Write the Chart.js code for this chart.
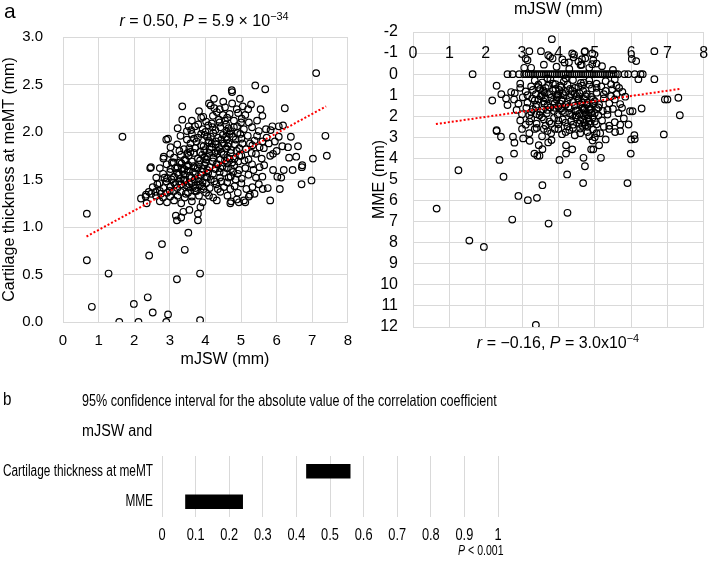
<!DOCTYPE html>
<html><head><meta charset="utf-8">
<script src="https://cdn.jsdelivr.net/npm/chart.js@4/dist/chart.umd.min.js"></script>
<style>
html,body{margin:0;padding:0;background:#fff;}
body{width:709px;height:563px;position:relative;overflow:hidden;font-family:Arial,"Liberation Sans",sans-serif;color:#000;}
canvas{position:absolute;}
.t{position:absolute;white-space:nowrap;line-height:1;}
.nl{transform:scaleX(0.8);transform-origin:0 50%;}
.nr{transform:scaleX(0.8);transform-origin:100% 50%;}
sup{font-size:0.68em;line-height:0;vertical-align:0.55em;}
</style></head><body>
<canvas id="cA" width="362" height="380" style="left:0;top:0"></canvas>
<canvas id="cB" width="349" height="380" style="left:360px;top:0"></canvas>
<canvas id="cC" width="709" height="183" style="left:0;top:380px"></canvas>

<div class="t" style="left:4px;top:0px;font-size:21px">a</div>
<div class="t" style="left:204px;top:13px;font-size:16px;transform:translateX(-50%)"><i>r</i> = 0.50, <i>P</i> = 5.9 × 10<sup>−34</sup></div>
<div class="t" style="left:225px;top:351px;font-size:16px;transform:translateX(-50%)">mJSW (mm)</div>
<div class="t" style="left:558px;top:335px;font-size:16px;transform:translateX(-50%)"><i>r</i> = −0.16, <i>P</i> = 3.0x10<sup>−4</sup></div>

<div class="t nl" style="left:3px;top:389px;font-size:19px">b</div>
<div class="t nl" data-w="415" style="left:82px;top:392px;font-size:16.5px">95% confidence interval for the absolute value of the correlation coefficient</div>
<div class="t nr" data-w="70" style="right:557px;top:423px;font-size:16px">mJSW and</div>
<div class="t nr" data-w="45" style="right:206px;top:543px;font-size:14.5px"><i>P</i> &lt; 0.001</div>

<script>
// ---------- Panel a (left): mJSW vs cartilage thickness at meMT ----------
const thicknessPoints = [
 [0.67,1.14],[0.67,0.65],[1.28,0.51],[0.81,0.16],[1.58,0.0],[2.12,0.0],[1.99,0.19],[2.38,0.26],[2.52,0.10],[2.90,0.0],
 [2.95,0.08],[3.20,0.45],[3.85,0.51],[3.85,0.02],[2.42,0.70],[2.78,0.82],[3.42,0.76],[3.52,0.94],[1.67,1.95],[2.45,1.62],
 [3.20,1.07],[3.17,1.12],[3.38,1.16],[3.32,1.10],[3.79,1.07],[3.79,1.14],[3.86,1.21],[3.55,1.18],
 [2.19,1.30],[2.33,1.34],[2.48,1.35],[2.35,1.25],[2.60,1.37],
 [4.70,1.25],[4.94,1.26],[5.08,1.28],[5.25,1.34],[5.38,1.35],[5.61,1.40],[5.75,1.41],[6.09,1.40],[6.70,1.45],[6.98,1.49],
 [6.02,1.53],[6.13,1.52],[6.71,1.63],[6.20,1.60],[5.60,1.53],
 [7.11,2.62],[5.40,2.49],[5.68,2.45],[4.74,2.44],[4.75,2.42],[6.23,2.25],[7.37,1.96],[7.41,1.75],[7.02,1.72],[6.72,1.65],
 [6.55,1.74],[6.35,1.73],[6.32,1.84],[6.16,1.85],[6.18,2.07],[6.06,2.06],[5.88,2.06],[5.83,2.02],[5.70,2.03],[6.06,1.95],
 [6.00,1.80],[5.90,1.77],[5.82,1.75],[5.64,1.83],
 [3.35,2.27],[3.35,2.13],[4.24,2.35],[4.50,2.32],[4.10,2.30],[4.97,2.35],[5.28,2.29],[5.55,2.24],[5.60,2.17],[5.20,2.24],
 [5.05,2.27],[4.88,2.24],[3.53,2.06],[3.94,2.16],[2.90,1.92],[3.27,1.80],[3.50,1.78],[2.83,1.74],[2.47,1.63],[3.06,1.68],[3.28,1.68],
 [3.82,2.22],[4.15,2.28],[4.32,2.21],[4.55,2.26],[4.68,2.19],[4.92,2.20],[5.12,2.18],[4.40,2.24],
 [3.62,2.12],[3.88,2.15],[4.02,2.11],[4.21,2.17],[4.38,2.13],[4.61,2.15],[4.80,2.12],[5.02,2.14],[5.22,2.10],[5.45,2.12],[4.49,2.18],
 [3.22,2.04],[3.48,2.01],[3.71,2.06],[3.92,2.03],[4.08,2.07],[4.28,2.02],[4.42,2.05],[4.58,2.08],[4.71,2.01],[4.89,2.06],
 [5.08,2.03],[5.31,2.05],[5.50,2.01],[4.18,2.09],[4.65,2.04],
 [2.95,1.93],[3.30,1.96],[3.48,1.92],[3.62,1.98],[3.79,1.94],[3.98,1.97],[4.10,1.91],[4.22,1.99],[4.36,1.94],[4.49,1.97],
 [4.60,1.92],[4.78,1.95],[4.90,1.99],[5.01,1.93],[5.19,1.96],[5.38,1.91],[5.72,1.94],[4.05,1.95],[4.68,1.98],[4.30,1.90],
 [3.02,1.84],[3.21,1.87],[3.40,1.82],[3.58,1.88],[3.71,1.83],[3.88,1.86],[3.97,1.81],[4.08,1.89],[4.18,1.84],[4.29,1.87],
 [4.41,1.82],[4.52,1.88],[4.63,1.85],[4.72,1.81],[4.83,1.87],[4.95,1.83],[5.04,1.88],[5.14,1.82],[5.32,1.86],[5.52,1.84],
 [5.78,1.88],[4.35,1.80],[4.58,1.83],[4.12,1.82],
 [2.82,1.72],[3.01,1.77],[3.12,1.73],[3.31,1.76],[3.42,1.71],[3.53,1.75],[3.68,1.78],[3.79,1.72],[3.91,1.76],[4.02,1.71],
 [4.11,1.78],[4.22,1.73],[4.33,1.77],[4.42,1.71],[4.51,1.76],[4.62,1.73],[4.71,1.78],[4.82,1.72],[5.01,1.75],[5.21,1.71],
 [5.42,1.77],[5.58,1.72],[3.85,1.79],[4.45,1.79],[4.05,1.74],
 [2.72,1.62],[2.91,1.66],[3.02,1.61],[3.11,1.68],[3.22,1.63],[3.33,1.67],[3.41,1.61],[3.52,1.65],[3.62,1.69],[3.71,1.62],
 [3.82,1.66],[3.92,1.61],[4.01,1.68],[4.12,1.63],[4.31,1.66],[4.42,1.62],[4.61,1.67],[4.72,1.61],[4.81,1.65],[4.92,1.69],
 [5.12,1.62],[5.31,1.66],[5.52,1.63],[3.67,1.64],[3.97,1.65],[4.21,1.69],
 [2.62,1.52],[2.81,1.56],[2.92,1.51],[3.01,1.58],[3.12,1.53],[3.21,1.57],[3.31,1.51],[3.42,1.55],[3.51,1.59],[3.61,1.52],
 [3.72,1.56],[3.81,1.51],[3.91,1.58],[4.02,1.53],[4.21,1.56],[4.41,1.52],[4.52,1.57],[4.71,1.53],[4.91,1.56],[5.02,1.51],
 [5.21,1.55],[5.42,1.52],[3.56,1.54],[3.36,1.59],[3.86,1.55],
 [2.52,1.42],[2.71,1.46],[2.82,1.41],[2.91,1.48],[3.02,1.43],[3.11,1.47],[3.21,1.41],[3.32,1.45],[3.41,1.49],[3.52,1.42],
 [3.61,1.46],[3.72,1.41],[3.82,1.48],[3.91,1.43],[4.02,1.46],[4.12,1.41],[4.31,1.45],[4.52,1.42],[4.61,1.47],[4.82,1.43],
 [5.01,1.46],[5.32,1.42],[3.46,1.44],[3.26,1.48],
 [2.32,1.32],[2.41,1.37],[2.61,1.33],[2.72,1.38],[2.81,1.31],[2.92,1.36],[3.01,1.32],[3.12,1.38],[3.22,1.33],[3.31,1.37],
 [3.42,1.31],[3.51,1.36],[3.62,1.32],[3.71,1.38],[3.82,1.33],[4.02,1.36],[4.22,1.31],[4.42,1.37],[4.62,1.33],[4.91,1.36],[5.22,1.32],
 [2.72,1.27],[2.92,1.26],[3.12,1.28],[3.32,1.25],[3.62,1.27],[3.92,1.26],[4.32,1.28],[4.72,1.27],[4.88,1.29],[5.12,1.26],[5.82,1.28],
 [3.35,1.62],[3.45,1.70],[3.55,1.83],[3.65,1.58],[3.75,1.90],[3.85,1.70],[3.95,1.85],[4.05,1.60],[4.15,1.95],[4.25,1.78],
 [4.35,1.66],[4.45,1.92],[4.55,1.70],[4.65,1.88],[4.75,1.68],[4.85,1.92],[4.95,1.75],[3.38,1.50],[3.48,1.64],[3.58,1.79],
 [3.68,1.93],[3.78,1.62],[3.88,1.98],[3.98,1.73],[4.08,1.57],[4.18,1.88],[4.28,1.61],[4.38,1.84],[4.48,1.64],[4.58,1.95],
 [4.68,1.72],[4.78,1.58],[4.88,1.80],[4.98,1.98],[3.25,1.55],[3.15,1.62],[3.05,1.50],[3.70,1.50],[3.92,1.47],[4.15,1.50],
 [4.40,1.58],[4.60,1.62],[4.85,1.50],[5.10,1.70],[5.25,1.88],[5.35,1.60],[5.45,1.96],[3.60,2.02],[3.80,2.08],[4.00,2.00],
 [4.20,2.05],[4.40,2.10],[4.60,2.00],[4.80,2.05],[5.00,2.10],[4.25,2.25],[4.55,2.12],[4.75,2.30],[3.55,1.45],[3.75,1.38],
 [3.95,1.40],[4.10,1.33],[4.35,1.40],[4.70,1.40],[5.15,1.40],[5.50,1.45],[2.65,1.45],[2.85,1.52],[2.75,1.35],[3.00,1.38],
 [3.15,1.45],[3.45,1.35],[3.65,1.42],[3.85,1.44],[4.05,1.52],[4.25,1.48],[4.45,1.48],[4.65,1.52],[4.95,1.60],[5.30,1.78],
 [5.60,1.90],[5.65,1.65],[5.90,1.60],[5.95,1.90],[6.40,1.95],[6.45,1.60],[6.60,1.85]
];
const trendThickness = [[0.66,0.90],[7.39,2.27]];

// ---------- Panel a (right): mJSW vs MME ----------
const mmePoints = [
 [0.65,6.38],[1.25,4.56],[1.55,7.9],[1.95,8.2],[3.38,11.9],[2.73,6.9],[2.90,5.78],[3.16,5.98],[3.41,5.87],[3.73,7.09],
 [4.25,6.58],[3.56,5.27],[2.49,4.87],[2.38,4.07],[2.78,3.77],[4.24,4.76],[4.68,5.17],[5.90,5.17],[4.69,3.97],[4.73,4.37],
 [5.17,3.97],[4.03,4.07],[4.21,3.77],[4.38,3.57],[4.21,3.38],[3.34,3.77],[3.42,3.87],[3.48,3.87],[3.56,3.56],[3.46,3.37],
 [3.72,3.24],[3.81,3.13],[3.21,3.16],[3.03,3.05],[2.79,3.25],[2.75,2.97],[2.42,2.97],[2.30,2.66],[5.99,3.77],[6.00,3.10],
 [6.10,3.08],[6.09,2.90],[6.90,2.86],[4.90,3.57],[4.96,3.57],[4.94,3.15],[5.00,3.00],[5.12,3.38],[5.30,3.10],[5.56,2.75],
 [6.64,-1.09],[7.34,1.95],[7.30,1.12],[6.93,1.20],[7.00,1.20],[6.29,1.63],[6.64,0.24],[6.20,0.24],[6.10,0.0],[6.26,0.0],
 [6.32,0.0],[6.02,-0.72],[6.14,-0.62],[5.92,0.0],[5.97,1.76],[6.04,1.76],[5.93,2.39],[5.67,0.65],[5.76,0.84],[5.84,1.07],
 [3.82,-1.66],[1.64,0.0],[2.74,0.0],[2.92,0.0],[2.60,0.0],[2.30,0.55],[2.43,0.95],[2.56,1.15],[2.60,1.47],[2.18,1.25],[2.70,0.85],
 [3.20,-1.09],[3.10,-0.74],[3.52,-1.09],[3.72,-0.90],[3.84,-0.74],[2.30,2.70],
 [3.77,-0.82],[4.11,-0.70],[4.17,-0.55],[4.38,-0.98],[4.42,-0.80],[4.72,-1.06],[4.74,-0.75],[4.96,-0.66],[5.20,-0.38],
 [4.64,-0.45],[3.15,-0.66],[3.06,-0.30],[4.29,-0.56],[4.61,-0.43],[4.93,-0.47],[4.93,-0.98],[4.73,-1.09],[4.65,-0.71],[4.43,-0.93],
 [3.25,-0.30],[3.60,-0.45],[3.95,-0.35],[4.30,-0.25],[4.55,-0.60],[4.85,-0.30],[5.05,-0.50],[5.50,-0.20],
 [3.06,0],[3.12,0],[3.18,0],[3.24,0],[3.30,0],[3.36,0],[3.42,0],[3.48,0],[3.54,0],[3.60,0],[3.66,0],[3.72,0],[3.78,0],
 [3.84,0],[3.90,0],[3.96,0],[4.02,0],[4.08,0],[4.14,0],[4.20,0],[4.26,0],[4.32,0],[4.38,0],[4.44,0],[4.50,0],[4.56,0],
 [4.62,0],[4.68,0],[4.74,0],[4.80,0],[4.86,0],[4.92,0],[4.98,0],[5.04,0],[5.10,0],[5.16,0],[5.22,0],[5.28,0],[5.34,0],
 [5.40,0],[5.46,0],[5.52,0],[5.58,0],[5.64,0],[5.82,0],
 [2.95,0.45],[3.35,0.30],[3.55,0.40],[3.78,0.25],[3.92,0.48],[4.15,0.35],[4.40,0.28],[4.62,0.42],[4.85,0.30],[5.05,0.45],
 [5.30,0.33],[5.55,0.25],[5.45,0.48],
 [2.80,0.90],[2.95,0.65],[3.10,0.82],[3.25,0.58],[3.38,0.95],[3.50,0.70],[3.62,0.88],[3.72,0.55],[3.85,0.78],[3.98,0.95],
 [4.08,0.62],[4.20,0.85],[4.32,0.70],[4.45,0.92],[4.55,0.60],[4.68,0.80],[4.78,0.95],[4.92,0.68],[5.05,0.88],[5.18,0.58],
 [5.30,0.80],[5.48,0.72],[5.60,0.95],[3.44,0.62],[4.02,0.75],
 [2.78,1.20],[2.90,1.40],[3.02,1.10],[3.15,1.35],[3.28,1.15],[3.40,1.45],[3.52,1.05],[3.60,1.30],[3.70,1.48],[3.80,1.12],
 [3.90,1.38],[4.00,1.02],[4.10,1.25],[4.20,1.45],[4.30,1.10],[4.40,1.32],[4.50,1.05],[4.60,1.42],[4.70,1.18],[4.80,1.35],
 [4.90,1.08],[5.00,1.28],[5.12,1.45],[5.25,1.15],[5.40,1.38],[5.55,1.20],[5.70,1.42],[3.35,1.25],[3.95,1.20],[4.55,1.25],[4.95,1.40],
 [2.85,1.70],[3.00,1.90],[3.12,1.60],[3.25,1.80],[3.38,1.55],[3.48,1.95],[3.58,1.68],[3.68,1.85],[3.78,1.58],[3.88,1.75],
 [3.98,1.92],[4.08,1.62],[4.18,1.82],[4.28,1.55],[4.38,1.98],[4.48,1.72],[4.58,1.88],[4.66,1.60],[4.74,1.80],[4.82,1.95],
 [4.90,1.65],[5.00,1.85],[5.10,1.58],[5.22,1.75],[5.35,1.92],[5.50,1.65],[5.65,1.85],[4.70,1.98],[4.85,1.70],
 [2.95,2.20],[3.10,2.40],[3.25,2.10],[3.40,2.35],[3.55,2.05],[3.65,2.45],[3.75,2.25],[3.88,2.08],[4.00,2.38],[4.12,2.15],
 [4.25,2.48],[4.35,2.22],[4.48,2.05],[4.58,2.35],[4.68,2.15],[4.75,2.42],[4.85,2.25],[4.95,2.05],[5.05,2.38],[5.20,2.20],
 [5.40,2.45],[5.55,2.28],[5.70,2.40],[4.72,2.30],
 [3.00,2.60],[3.20,2.80],[3.40,2.55],[3.55,2.95],[3.70,2.70],[3.90,2.60],[4.10,2.85],[4.30,2.65],[4.45,2.90],[4.60,2.58],
 [4.80,2.75],[4.95,2.62],[5.15,2.80],[5.40,2.60],[5.70,2.70],
 [3.45,0.50],[3.65,0.65],[3.85,0.45],[4.05,0.55],[4.25,0.50],[4.45,0.65],[4.65,0.55],[4.85,0.50],[5.05,0.65],[3.55,1.00],
 [3.75,0.95],[3.95,1.10],[4.15,1.00],[4.35,0.95],[4.55,1.15],[4.75,1.05],[4.95,1.20],[3.45,1.20],[3.65,1.15],[3.85,1.30],
 [4.05,1.40],[4.25,1.30],[4.45,1.50],[4.65,1.35],[4.85,1.55],[5.05,1.65],[3.50,1.80],[3.70,1.70],[3.90,1.60],[4.10,1.75],
 [4.30,1.85],[4.50,1.95],[4.70,1.70],[4.90,1.85],[5.10,1.95],[3.60,2.15],[3.80,2.35],[4.00,2.20],[4.20,2.30],[4.40,2.40],
 [4.60,2.20],[4.80,2.50],[5.00,2.25],[3.30,1.65],[3.20,1.95],[3.15,1.00],[3.30,0.75],[3.20,2.25],[3.35,2.60],[3.60,2.60],
 [3.80,2.80],[4.00,2.60],[4.20,2.75],[4.40,2.55],[4.60,2.80],[4.85,2.95],[5.05,2.80],[5.25,2.50],[5.35,1.70],[5.45,1.05],
 [5.60,0.55],[5.75,1.60],[5.80,2.10],[5.25,0.95],[4.70,0.40],[4.20,0.20],[3.70,0.20],[4.78,1.45],[4.82,2.10],[4.88,2.35],
 [4.76,1.90],[4.72,1.62],[4.66,2.45],[3.58,0.80],[3.92,0.70],[4.12,0.90],[4.38,0.80],[4.58,0.90],[3.40,1.90],[3.62,1.40],
 [4.00,1.55],[4.32,1.62],[4.52,1.72]
];
const trendMME = [[0.63,2.37],[7.35,0.70]];
const mmeXLabelRow = -1;

// ---------- Panel b: 95% CI of |r| ----------
const ciLabels = ['Cartilage thickness at meMT', 'MME'];
const ciRanges = [[0.43, 0.56], [0.07, 0.24]];

// ---------- rendering ----------
const SANS = 'Arial, "Liberation Sans", sans-serif';
Chart.defaults.font.family = SANS;
Chart.defaults.color = '#000';
const GRID = '#d9d9d9';
const toXY = arr => arr.map(([x, y]) => ({x, y}));

// condensed look for panel b HTML texts
document.querySelectorAll('[data-w]').forEach(el => {
  const s = (+el.dataset.w) / el.offsetWidth;
  el.style.transform = 'scaleX(' + s.toFixed(3) + ')';
});

function scatterSets(points, trend) {
  return [
    {type: 'line', data: toXY(trend), borderColor: '#ff0000', borderWidth: 2, borderDash: [2, 2],
     borderCapStyle: 'butt', pointRadius: 0, fill: false, order: 0},
    {type: 'scatter', data: toXY(points), pointRadius: 3.3, pointBorderWidth: 1.2,
     pointBorderColor: '#000', pointBackgroundColor: 'rgba(0,0,0,0)', order: 1}
  ];
}

new Chart(document.getElementById('cA'), {
  type: 'scatter',
  data: {datasets: scatterSets(thicknessPoints, trendThickness)},
  options: {
    responsive: false, animation: false, events: [],
    layout: {padding: {top: 37, right: 6, left: 0, bottom: 0}},
    plugins: {legend: {display: false}, tooltip: {enabled: false}},
    scales: {
      x: {type: 'linear', min: 0, max: 8,
          ticks: {stepSize: 1, padding: 10, font: {size: 15}, color: '#000'},
          grid: {color: GRID, drawTicks: false}, border: {color: GRID},
          afterFit(s) { s.height = 58; }},
      y: {type: 'linear', min: 0, max: 3,
          ticks: {stepSize: 0.5, padding: 20, font: {size: 15}, color: '#000', callback: v => Number(v).toFixed(1)},
          grid: {color: GRID, drawTicks: false}, border: {color: GRID},
          title: {display: true, text: 'Cartilage thickness at meMT (mm)', font: {size: 16}, color: '#000', padding: {top: 0, bottom: 0}},
          afterFit(s) { s.width = 63; }}
    }
  }
});

const topXLabels = {
  id: 'topXLabels',
  beforeDatasetsDraw(chart) {
    const {ctx, scales: {x, y}} = chart;
    const py = y.getPixelForValue(mmeXLabelRow);
    ctx.save();
    ctx.font = '16px ' + SANS;
    ctx.fillStyle = '#000';
    ctx.textAlign = 'center';
    ctx.textBaseline = 'middle';
    x.ticks.forEach(t => ctx.fillText(String(t.value), x.getPixelForValue(t.value), py + 1));
    ctx.restore();
  }
};

new Chart(document.getElementById('cB'), {
  type: 'scatter',
  data: {datasets: scatterSets(mmePoints, trendMME)},
  plugins: [topXLabels],
  options: {
    responsive: false, animation: false, events: [],
    layout: {padding: {top: 0, right: 4, left: 0, bottom: 53}},
    plugins: {legend: {display: false}, tooltip: {enabled: false}},
    scales: {
      x: {type: 'linear', position: 'top', min: 0, max: 8,
          ticks: {stepSize: 1, display: false},
          grid: {color: GRID, drawTicks: false}, border: {color: GRID},
          title: {display: true, text: 'mJSW (mm)', font: {size: 16}, color: '#000', padding: {top: 0, bottom: 0}},
          afterFit(s) { s.height = 32; }},
      y: {type: 'linear', reverse: true, min: -2, max: 12,
          ticks: {stepSize: 1, autoSkip: false, padding: 15, font: {size: 16}, color: '#000'},
          grid: {color: GRID, drawTicks: false}, border: {color: GRID},
          title: {display: true, text: 'MME (mm)', font: {size: 16}, color: '#000', padding: {top: 10, bottom: 0}},
          afterFit(s) { s.width = 53; }}
    }
  }
});

// condensed labels for panel b (drawn at the library's scale positions)
const narrowLabels = {
  id: 'narrowLabels',
  afterDraw(chart) {
    const {ctx, scales: {x, y}} = chart;
    ctx.save();
    ctx.fillStyle = '#000';
    ctx.textBaseline = 'middle';
    ctx.font = '16px ' + SANS;
    ctx.textAlign = 'right';
    y.getLabels().forEach((lab, i) => {
      ctx.save();
      ctx.translate(x.left - 9, y.getPixelForValue(i));
      ctx.scale(0.74, 1);
      ctx.fillText(lab, 0, 0);
      ctx.restore();
    });
    ctx.font = '16px ' + SANS;
    ctx.textAlign = 'center';
    x.ticks.forEach(t => {
      ctx.save();
      ctx.translate(x.getPixelForValue(t.value), x.top + 19);
      ctx.scale(0.8, 1);
      ctx.fillText(String(Math.round(t.value * 10) / 10), 0, 0);
      ctx.restore();
    });
    ctx.restore();
  }
};

new Chart(document.getElementById('cC'), {
  type: 'bar',
  data: {labels: ciLabels, datasets: [{data: ciRanges, backgroundColor: '#000', borderWidth: 0, barThickness: 14}]},
  plugins: [narrowLabels],
  options: {
    indexAxis: 'y', responsive: false, animation: false, events: [],
    layout: {padding: {top: 76, right: 211, left: 0, bottom: 0}},
    plugins: {legend: {display: false}, tooltip: {enabled: false}},
    scales: {
      x: {type: 'linear', min: 0, max: 1,
          ticks: {stepSize: 0.1, display: false},
          grid: {color: GRID, drawTicks: false}, border: {display: false},
          afterFit(s) { s.height = 46; }},
      y: {ticks: {display: false},
          grid: {display: false}, border: {display: false},
          afterFit(s) { s.width = 162; }}
    }
  }
});
</script>
</body></html>
